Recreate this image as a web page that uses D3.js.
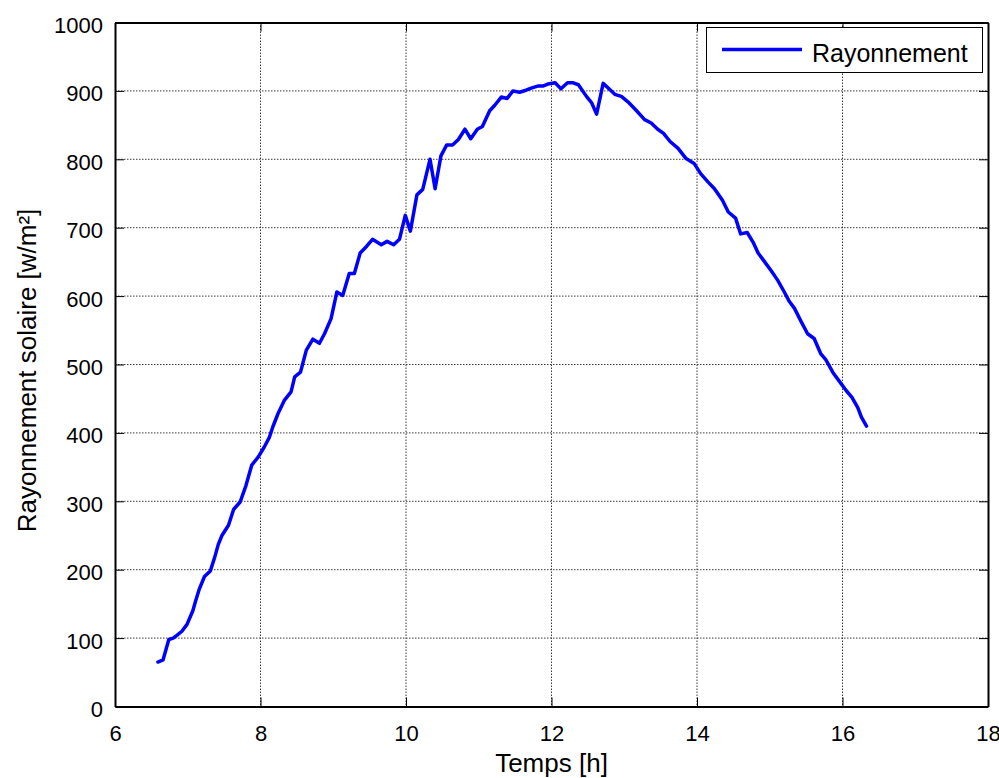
<!DOCTYPE html>
<html>
<head>
<meta charset="utf-8">
<script src="https://cdn.jsdelivr.net/npm/d3@7"></script>
<style>
  html, body { margin: 0; padding: 0; background: #fff; }
  svg { display: block; font-family: "Liberation Sans", Arial, Helvetica, sans-serif; }
</style>
</head>
<body>
<svg id="chart" width="999" height="778"></svg>
<script>
// Solar irradiance over one day
const hours = [
  6.59, 6.66, 6.74, 6.80, 6.85, 6.92, 6.99, 7.07, 7.11, 7.16, 7.23, 7.31, 7.37, 7.42, 7.47, 7.56,
  7.63, 7.72, 7.80, 7.88, 7.97, 8.05, 8.12, 8.17, 8.24, 8.33, 8.42, 8.47, 8.55, 8.63, 8.72, 8.81,
  8.88, 8.97, 9.05, 9.13, 9.22, 9.29, 9.37, 9.46, 9.54, 9.66, 9.74, 9.83, 9.91, 9.99, 10.06, 10.15,
  10.23, 10.33, 10.40, 10.48, 10.56, 10.64, 10.72, 10.81, 10.89, 10.98, 11.05, 11.15, 11.22, 11.31,
  11.39, 11.47, 11.56, 11.65, 11.72, 11.81, 11.88, 11.95, 12.05, 12.13, 12.22, 12.29, 12.37, 12.48,
  12.55, 12.62, 12.71, 12.79, 12.87, 12.96, 13.05, 13.16, 13.28, 13.37, 13.46, 13.54, 13.63, 13.74,
  13.85, 13.96, 14.05, 14.15, 14.24, 14.35, 14.43, 14.53, 14.60, 14.69, 14.77, 14.84, 14.93, 15.02,
  15.11, 15.20, 15.27, 15.34, 15.43, 15.52, 15.61, 15.70, 15.77, 15.87, 15.96, 16.05, 16.13, 16.21,
  16.26, 16.33
];
const irradiance = [
  65, 68, 98, 100, 104, 110, 120, 140, 155, 172, 190, 198, 218, 237, 250, 265,
  288, 299, 323, 353, 365, 379, 393, 409, 428, 448, 460, 482, 489, 521, 537, 531,
  545, 567, 606, 601, 633, 633, 663, 673, 683, 675, 680, 675, 683, 718, 695, 748,
  756, 800, 757, 805, 821, 821, 829, 844, 830, 844, 848, 871, 879, 891,
  889, 900, 898, 901, 904, 907, 907, 910, 912, 903, 912, 912, 909, 892,
  883, 866, 911, 903, 895, 892, 884, 872, 858, 853, 844, 838, 826, 816,
  801, 794, 779, 767, 757, 740, 723, 714, 691, 693, 679, 663, 650, 637,
  623, 606, 592, 582, 563, 545, 538, 516, 507, 488, 475, 462, 452, 437,
  423, 410
];
const xTicks = [6, 8, 10, 12, 14, 16, 18];
const yTicks = [0, 100, 200, 300, 400, 500, 600, 700, 800, 900, 1000];
const xTitle = "Temps [h]";
const yTitle = "Rayonnement solaire [w/m²]";
const seriesName = "Rayonnement";

const svg = d3.select("#chart");
const margin = { left: 115, right: 11, top: 22.5, bottom: 71.5 };
const W = 999, H = 778;
const iw = W - margin.left - margin.right;
const ih = H - margin.top - margin.bottom;

const x = d3.scaleLinear().domain([6, 18]).range([0, iw]);
const y = d3.scaleLinear().domain([0, 1000]).range([ih, 0]);

const g = svg.append("g").attr("transform", `translate(${margin.left},${margin.top})`);

// dotted grid
const grid = g.append("g").attr("class", "grid")
  .attr("stroke", "#3a3a3a").attr("stroke-width", 1).attr("stroke-dasharray", "1.5,1.5");
grid.selectAll(".gx").data(xTicks.slice(1, -1)).join("line")
  .attr("x1", d => x(d)).attr("x2", d => x(d)).attr("y1", 0).attr("y2", ih);
grid.selectAll(".gy").data(yTicks.slice(1, -1)).join("line")
  .attr("x1", 0).attr("x2", iw).attr("y1", d => y(d)).attr("y2", d => y(d));

// data line
const line = d3.line().x((d, i) => x(hours[i])).y(d => y(d));
g.append("path").datum(irradiance)
  .attr("fill", "none").attr("stroke", "#0000ff").attr("stroke-width", 3.5)
  .attr("stroke-linejoin", "round").attr("stroke-linecap", "round")
  .attr("d", line);

// axes with inward ticks on all four sides
const tick = 9;
const styleAxis = sel => {
  sel.select(".domain").attr("stroke", "#000").attr("stroke-width", 2);
  sel.selectAll(".tick line").attr("stroke", "#000").attr("stroke-width", 1);
  sel.selectAll("text").attr("fill", "#000").style("font-size", "22px")
    .style("font-family", '"Liberation Sans", Arial, sans-serif');
};
const xa = g.append("g").attr("transform", `translate(0,${ih})`)
  .call(d3.axisBottom(x).tickValues(xTicks).tickFormat(d3.format("d"))
    .tickSizeInner(-tick).tickSizeOuter(0).tickPadding(19));
styleAxis(xa);
const xt = g.append("g")
  .call(d3.axisTop(x).tickValues(xTicks).tickFormat("")
    .tickSizeInner(-tick).tickSizeOuter(0));
styleAxis(xt);
const ya = g.append("g")
  .call(d3.axisLeft(y).tickValues(yTicks).tickFormat(d3.format("d"))
    .tickSizeInner(-tick).tickSizeOuter(0).tickPadding(12));
styleAxis(ya);
ya.selectAll("text").attr("dy", "0.45em");
const yr = g.append("g").attr("transform", `translate(${iw},0)`)
  .call(d3.axisRight(y).tickValues(yTicks).tickFormat("")
    .tickSizeInner(-tick).tickSizeOuter(0));
styleAxis(yr);

// axis titles
svg.append("text")
  .attr("x", margin.left + iw / 2).attr("y", 772)
  .attr("text-anchor", "middle").style("font-size", "26px").attr("fill", "#000")
  .text(xTitle);
svg.append("text")
  .attr("transform", `translate(36,${margin.top + ih / 2 + 6}) rotate(-90)`)
  .attr("text-anchor", "middle").style("font-size", "26px").attr("fill", "#000")
  .text(yTitle);

// legend
const lg = svg.append("g");
lg.append("rect").attr("x", 706.5).attr("y", 27.5).attr("width", 276).attr("height", 45)
  .attr("fill", "#fff").attr("stroke", "#000").attr("stroke-width", 1);
lg.append("line").attr("x1", 722).attr("x2", 802).attr("y1", 49.5).attr("y2", 49.5)
  .attr("stroke", "#0000ff").attr("stroke-width", 3.5);
lg.append("text").attr("x", 812).attr("y", 61.5).style("font-size", "25px").attr("fill", "#000")
  .text(seriesName);
</script>
</body>
</html>
